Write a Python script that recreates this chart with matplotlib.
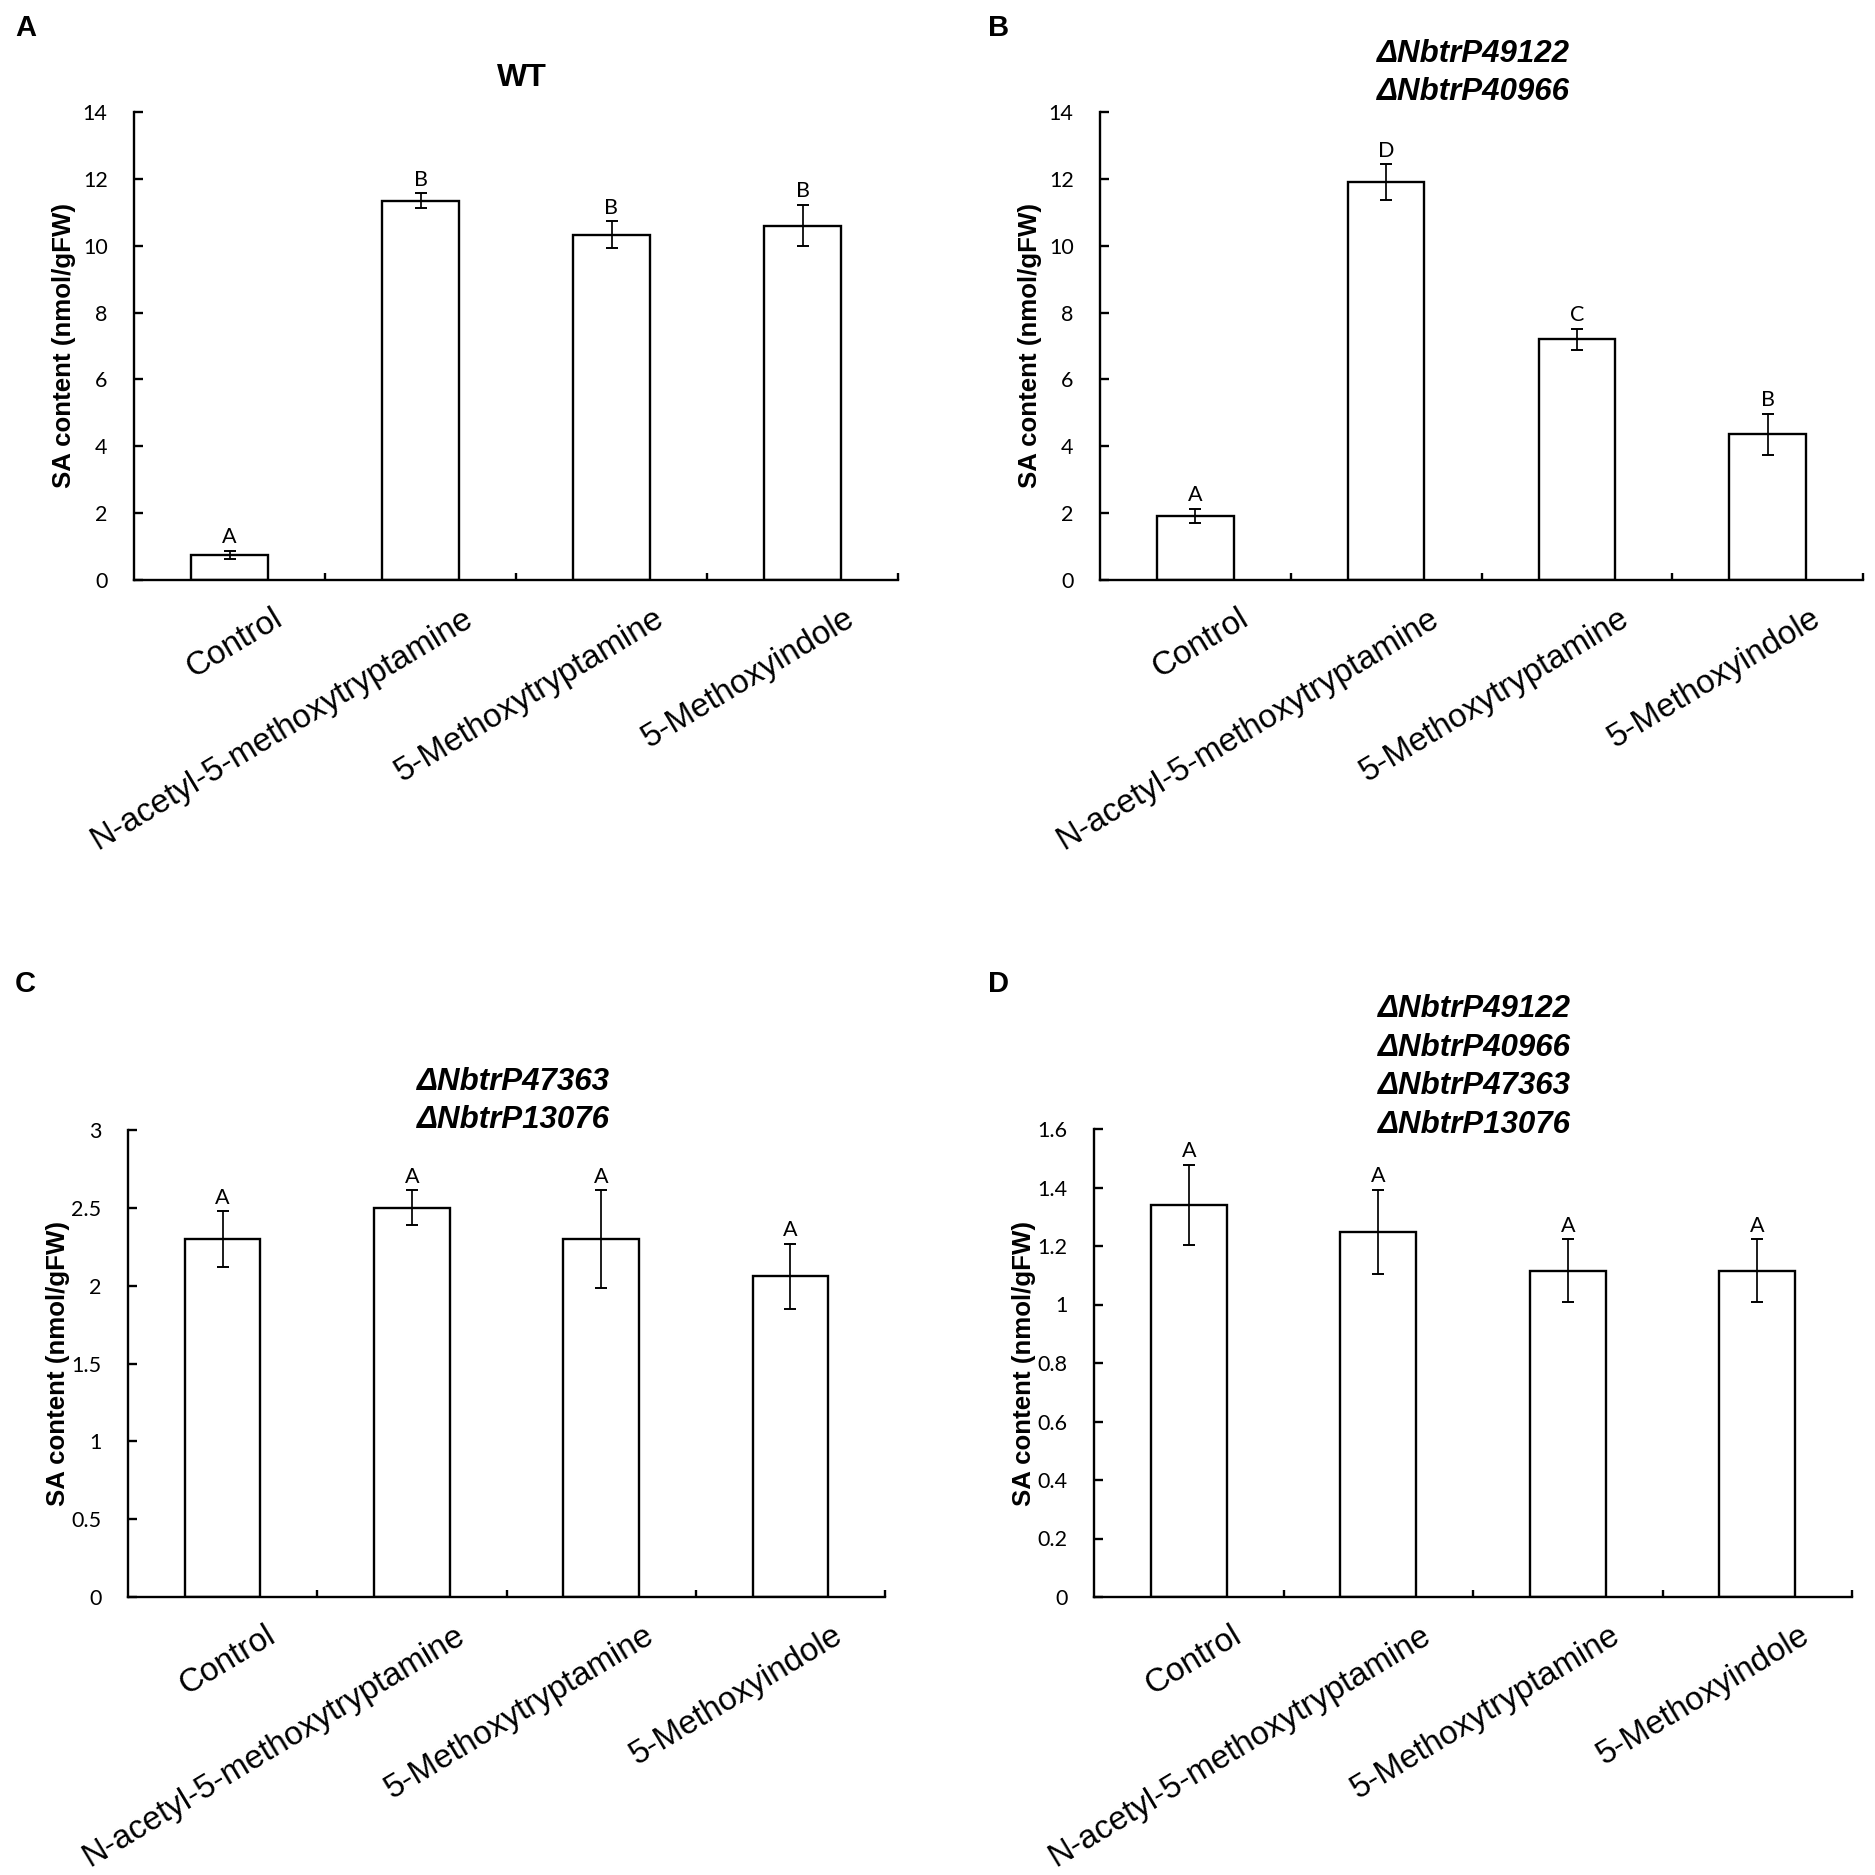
import matplotlib
matplotlib.use("Agg")
import matplotlib.pyplot as plt
import matplotlib.transforms as mtransforms
from matplotlib.ticker import FuncFormatter

# données
categories = ["Control", "N-acetyl-5-methoxytryptamine",
              "5-Methoxytryptamine", "5-Methoxyindole"]

wt_mean = [0.745, 11.35, 10.33, 10.60]
wt_err = [0.12, 0.22, 0.40, 0.62]
wt_letters = ["A", "B", "B", "B"]

b_mean = [1.915, 11.90, 7.20, 4.36]
b_err = [0.21, 0.53, 0.31, 0.61]
b_letters = ["A", "D", "C", "B"]

c_mean = [2.30, 2.50, 2.30, 2.06]
c_err = [0.178, 0.112, 0.313, 0.21]
c_letters = ["A", "A", "A", "A"]

d_mean = [1.34, 1.247, 1.115, 1.115]
d_err = [0.137, 0.144, 0.108, 0.108]
d_letters = ["A", "A", "A", "A"]

yticks_ab = [0, 2, 4, 6, 8, 10, 12, 14]
yticks_c = [0, 0.5, 1, 1.5, 2, 2.5, 3]
yticks_d = [0, 0.2, 0.4, 0.6, 0.8, 1, 1.2, 1.4, 1.6]

titles = ["WT",
          "ΔNbtrP49122\nΔNbtrP40966",
          "ΔNbtrP47363\nΔNbtrP13076",
          "ΔNbtrP49122\nΔNbtrP40966\nΔNbtrP47363\nΔNbtrP13076"]
panel_letters = ["A", "B", "C", "D"]

W = 1875.0
fig = plt.figure(figsize=(18.75, 18.75), dpi=100)

# positions des axes (pixels : gauche, bas y0, droite, haut)
boxes = [(134, 580, 898, 112),
         (1100, 580, 1863, 112),
         (128, 1597, 885, 1130),
         (1094, 1597, 1852, 1129)]
title_pos = [(522, 78), (1473, 73), (513, 1101), (1474, 1067)]
letter_pos = [(15, 14), (988, 14), (15, 970), (988, 970)]

data = [(wt_mean, wt_err, wt_letters, yticks_ab),
        (b_mean, b_err, b_letters, yticks_ab),
        (c_mean, c_err, c_letters, yticks_c),
        (d_mean, d_err, d_letters, yticks_d)]

lw = 1.7
num_font = "Lato"

for i, (mean, err, lets, yt) in enumerate(data):
    l, y0, r, top = boxes[i]
    ax = fig.add_axes([l / W, 1 - y0 / W, (r - l) / W, (y0 - top) / W])
    x = range(len(categories))
    ax.bar(x, mean, width=0.40, color="white", edgecolor="black",
           linewidth=1.7, zorder=2)
    ax.errorbar(x, mean, yerr=err, fmt="none", ecolor="black",
                elinewidth=1.25, capsize=4.3, capthick=1.4, zorder=3)
    for xi, m, e, t in zip(x, mean, err, lets):
        ax.annotate(t, (xi, m + e), xytext=(0, 5.5), textcoords="offset points",
                    ha="center", va="baseline", fontsize=15.5, family=num_font)

    ax.set_xlim(-0.5, 3.5)
    ax.set_ylim(yt[0], yt[-1])
    ax.set_yticks(yt)
    ax.yaxis.set_major_formatter(FuncFormatter(lambda v, p: "%g" % v))
    for lab in ax.get_yticklabels():
        lab.set_family(num_font)
        lab.set_fontsize(15.5)
    ax.tick_params(axis="y", direction="in", length=6.5, width=lw, pad=19)

    ax.set_xticks(list(x))
    ax.set_xticklabels(categories, rotation=31, ha="right", va="top",
                       rotation_mode="anchor", fontsize=23.8,
                       family="Liberation Sans")
    ax.set_xticks([0.5, 1.5, 2.5, 3.5], minor=True)
    ax.tick_params(axis="x", which="major", length=0, pad=16.5)
    ax.tick_params(axis="x", which="minor", direction="in", length=5, width=lw)
    shift = mtransforms.ScaledTranslation(0.42, 0, fig.dpi_scale_trans)
    for lab in ax.get_xticklabels():
        lab.set_transform(lab.get_transform() + shift)

    for s in ["top", "right"]:
        ax.spines[s].set_visible(False)
    for s in ["left", "bottom"]:
        ax.spines[s].set_linewidth(lw)

    ax.set_ylabel("SA content (nmol/gFW)", fontsize=18.6, fontweight="bold",
                  family="Liberation Sans")
    ax.yaxis.set_label_coords(-0.076, 0.5)

    tx, ty = title_pos[i]
    fig.text(tx / W, 1 - ty / W, titles[i], ha="center", va="center",
             fontsize=23 if i == 0 else 22.5, fontweight="bold",
             fontstyle="normal" if i == 0 else "italic",
             family="Liberation Sans", linespacing=1.37)

    px, py = letter_pos[i]
    fig.text(px / W, 1 - py / W, panel_letters[i], ha="left", va="top",
             fontsize=21, fontweight="bold", family="Liberation Sans")

fig.savefig("out.png", dpi=100, facecolor="white")
